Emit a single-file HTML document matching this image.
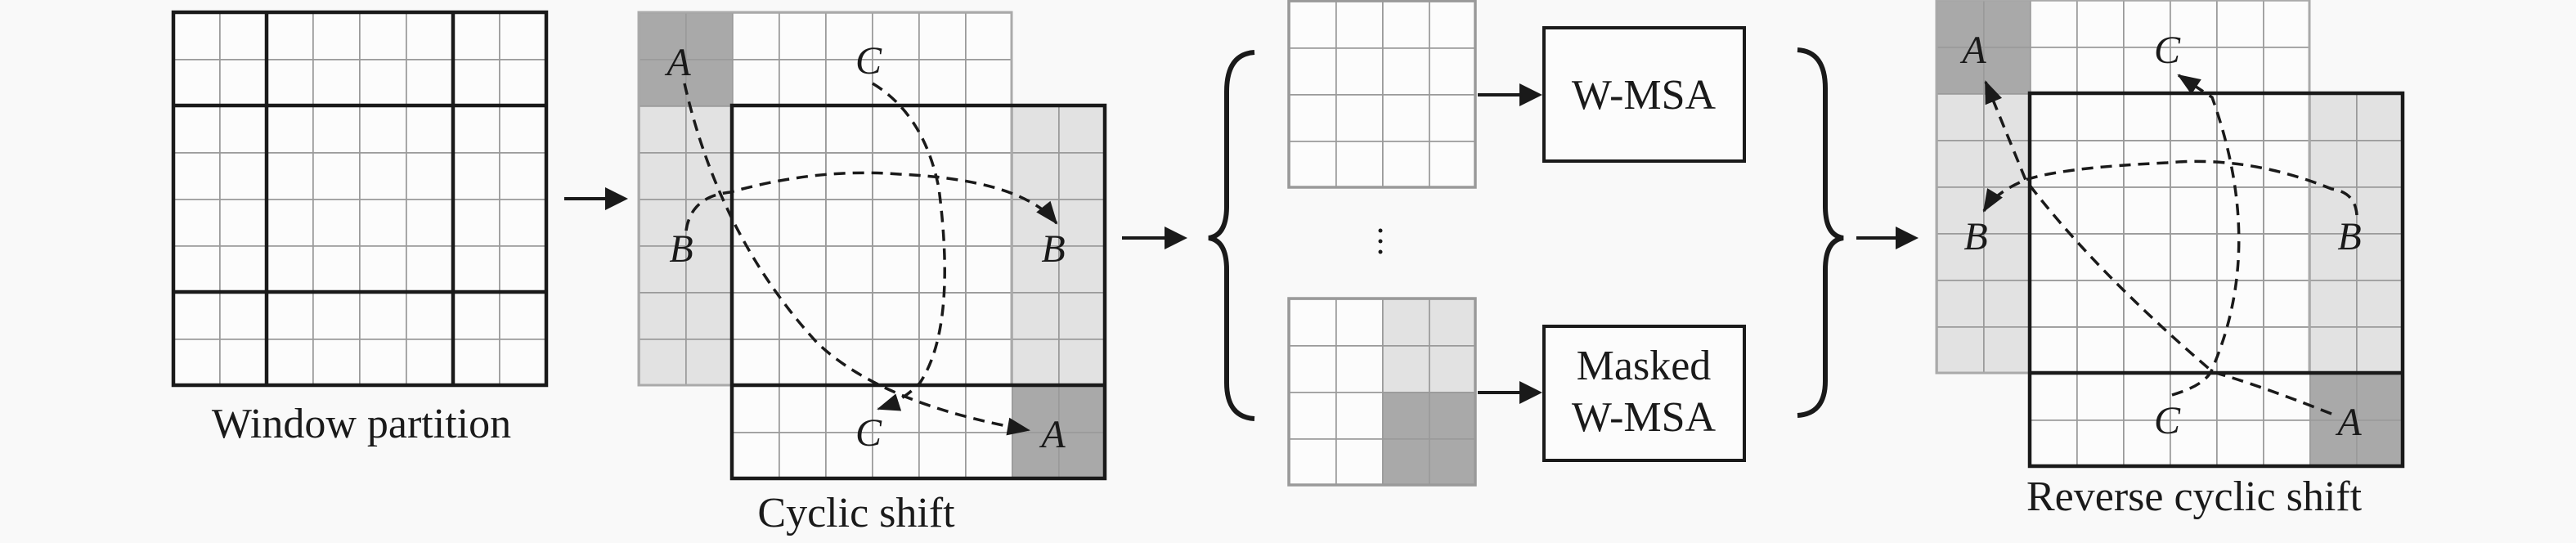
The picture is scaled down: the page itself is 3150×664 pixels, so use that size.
<!DOCTYPE html>
<html><head><meta charset="utf-8"><style>
html,body{margin:0;padding:0;background:#f9f9f9;}
svg{display:block;}
text{font-family:"Liberation Serif",serif;fill:#1a1a1a;}
.it{font-style:italic;font-size:48px;text-anchor:middle;}
.lb{font-size:52px;text-anchor:middle;}
.d{fill:none;stroke:#1a1a1a;stroke-width:3.5;stroke-dasharray:14 9;}
</style></head><body>
<svg width="3150" height="664" viewBox="0 0 3150 664" xmlns="http://www.w3.org/2000/svg">
<defs>
<pattern id="p1" patternUnits="userSpaceOnUse" x="40" y="15" width="57" height="57"><path d="M0 0H57M0 0V57" stroke="#9a9a9a" stroke-width="3.5" fill="none"/></pattern>
<pattern id="p2" patternUnits="userSpaceOnUse" x="37" y="1" width="57" height="57"><path d="M0 0H57M0 0V57" stroke="#9a9a9a" stroke-width="3.5" fill="none"/></pattern>
<pattern id="p3" patternUnits="userSpaceOnUse" x="37" y="23" width="57" height="57"><path d="M0 0H57M0 0V57" stroke="#9a9a9a" stroke-width="3.5" fill="none"/></pattern>
<pattern id="p4" patternUnits="userSpaceOnUse" x="31" y="0" width="57" height="57"><path d="M0 0H57M0 0V57" stroke="#9a9a9a" stroke-width="3.5" fill="none"/></pattern>
<marker id="ar" refX="0" refY="0" markerWidth="40" markerHeight="40" orient="auto" markerUnits="userSpaceOnUse" style="overflow:visible"><path d="M-26,-11 L2,0 L-26,11 Z" fill="#1a1a1a"/></marker>
</defs>

<!-- Window partition -->
<rect x="212" y="15" width="456" height="456" fill="#fcfcfc"/>
<rect x="212" y="15" width="456" height="456" fill="url(#p1)"/>
<g stroke="#1a1a1a" stroke-width="4.5" fill="none">
<rect x="212" y="15" width="456" height="456"/>
<path d="M326 15V471M554 15V471M212 129H668M212 357H668"/>
</g>
<text class="lb" x="442" y="535">Window partition</text>

<!-- arrow 1 -->
<line x1="690" y1="243" x2="752" y2="243" stroke="#1a1a1a" stroke-width="4"/>
<path d="M740 229 L768 243 L740 257 Z" fill="#1a1a1a"/>

<!-- Cyclic shift -->
<rect x="781" y="15" width="456" height="456" fill="#fcfcfc"/>
<rect x="781" y="15" width="114" height="114" fill="#a9a9a9"/>
<rect x="781" y="129" width="114" height="342" fill="#e2e2e2"/>
<rect x="895" y="129" width="456" height="456" fill="#fcfcfc"/>
<rect x="1237" y="129" width="114" height="342" fill="#e2e2e2"/>
<rect x="1237" y="471" width="114" height="114" fill="#a9a9a9"/>
<rect x="781" y="15" width="456" height="456" fill="url(#p1)"/>
<rect x="895" y="129" width="456" height="456" fill="url(#p1)"/>
<rect x="781" y="15" width="456" height="456" fill="none" stroke="#aaa" stroke-width="3"/>
<g stroke="#1a1a1a" stroke-width="4.5" fill="none">
<rect x="895" y="129" width="456" height="456"/>
<path d="M895 471H1351"/>
</g>
<path class="d" d="M837 102 Q 880 290 1000 420 Q 1080 495 1258 526" marker-end="url(#ar)"/>
<path class="d" d="M1067 102 Q 1130 140 1148 230 Q 1170 400 1125 468 Q 1105 490 1074 500" marker-end="url(#ar)"/>
<path class="d" d="M839 282 Q 845 240 893 235 Q 1000 205 1100 213 Q 1250 220 1292 273" marker-end="url(#ar)"/>
<text class="it" x="830" y="92">A</text>
<text class="it" x="1062" y="90">C</text>
<text class="it" x="833" y="320">B</text>
<text class="it" x="1288" y="320">B</text>
<text class="it" x="1062" y="545">C</text>
<text class="it" x="1288" y="547">A</text>
<text class="lb" x="1047" y="644">Cyclic shift</text>

<!-- arrow 2 -->
<line x1="1372" y1="291" x2="1436" y2="291" stroke="#1a1a1a" stroke-width="4"/>
<path d="M1424 277 L1452 291 L1424 305 Z" fill="#1a1a1a"/>

<!-- left brace -->
<path d="M1534 64 Q1500 66 1500 112 L1500 252 Q1500 288 1478 291 Q1500 294 1500 330 L1500 468 Q1500 510 1534 512" fill="none" stroke="#1a1a1a" stroke-width="6"/>

<!-- small grids -->
<rect x="1576" y="1" width="228" height="228" fill="#fcfcfc"/>
<rect x="1576" y="1" width="228" height="228" fill="url(#p2)"/>
<rect x="1576" y="1" width="228" height="228" fill="none" stroke="#9a9a9a" stroke-width="3.5"/>
<rect x="1576" y="365" width="228" height="228" fill="#fcfcfc"/>
<rect x="1690" y="365" width="114" height="114" fill="#e2e2e2"/>
<rect x="1690" y="479" width="114" height="114" fill="#a9a9a9"/>
<rect x="1576" y="365" width="228" height="228" fill="url(#p3)"/>
<rect x="1576" y="365" width="228" height="228" fill="none" stroke="#9a9a9a" stroke-width="3.5"/>
<g fill="#1a1a1a"><circle cx="1688" cy="282" r="2.5"/><circle cx="1688" cy="295" r="2.5"/><circle cx="1688" cy="308" r="2.5"/></g>

<!-- arrows to boxes -->
<line x1="1807" y1="116" x2="1868" y2="116" stroke="#1a1a1a" stroke-width="4"/>
<path d="M1858 102 L1886 116 L1858 130 Z" fill="#1a1a1a"/>
<line x1="1807" y1="480" x2="1868" y2="480" stroke="#1a1a1a" stroke-width="4"/>
<path d="M1858 466 L1886 480 L1858 494 Z" fill="#1a1a1a"/>

<rect x="1888" y="34" width="245" height="163" fill="#fcfcfc" stroke="#1a1a1a" stroke-width="4"/>
<text class="lb" x="2010" y="133">W-MSA</text>
<rect x="1888" y="399" width="245" height="164" fill="#fcfcfc" stroke="#1a1a1a" stroke-width="4"/>
<text class="lb" x="2010" y="464">Masked</text>
<text class="lb" x="2010" y="527">W-MSA</text>

<!-- right brace -->
<path d="M2198 61 Q2232 63 2232 108 L2232 252 Q2232 288 2254 291 Q2232 294 2232 330 L2232 466 Q2232 506 2198 508" fill="none" stroke="#1a1a1a" stroke-width="6"/>

<!-- arrow 3 -->
<line x1="2270" y1="291" x2="2330" y2="291" stroke="#1a1a1a" stroke-width="4"/>
<path d="M2318 277 L2346 291 L2318 305 Z" fill="#1a1a1a"/>

<!-- Reverse cyclic shift -->
<rect x="2368" y="0" width="456" height="456" fill="#fcfcfc"/>
<rect x="2368" y="0" width="114" height="114" fill="#a9a9a9"/>
<rect x="2368" y="114" width="114" height="342" fill="#e2e2e2"/>
<rect x="2482" y="114" width="456" height="456" fill="#fcfcfc"/>
<rect x="2824" y="114" width="114" height="342" fill="#e2e2e2"/>
<rect x="2824" y="456" width="114" height="114" fill="#a9a9a9"/>
<rect x="2368" y="0" width="456" height="456" fill="url(#p4)"/>
<rect x="2482" y="114" width="456" height="456" fill="url(#p4)"/>
<rect x="2368" y="0" width="456" height="456" fill="none" stroke="#aaa" stroke-width="3"/>
<g stroke="#1a1a1a" stroke-width="4.5" fill="none">
<rect x="2482" y="114" width="456" height="456"/>
<path d="M2482 456H2938"/>
</g>
<path class="d" d="M2851 506 Q 2760 470 2706 455 Q 2560 330 2477 220 L 2428 100" marker-end="url(#ar)"/>
<path class="d" d="M2656 483 Q 2700 470 2706 449 Q 2770 300 2705 119 L 2664 92" marker-end="url(#ar)"/>
<path class="d" d="M2882 263 Q 2880 235 2851 231 Q 2750 190 2650 199 Q 2520 205 2477 220 Q 2440 235 2426 258" marker-end="url(#ar)"/>
<text class="it" x="2414" y="77">A</text>
<text class="it" x="2650" y="77">C</text>
<text class="it" x="2416" y="305">B</text>
<text class="it" x="2873" y="305">B</text>
<text class="it" x="2650" y="530">C</text>
<text class="it" x="2873" y="532">A</text>
<text class="lb" x="2683" y="624">Reverse cyclic shift</text>
</svg>
</body></html>
